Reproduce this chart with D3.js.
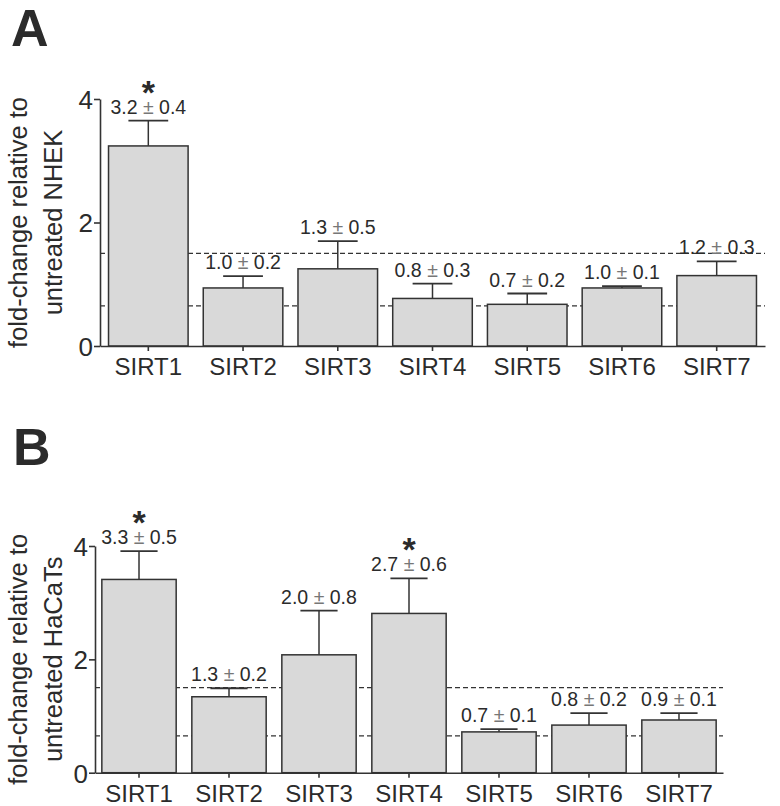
<!DOCTYPE html>
<html>
<head>
<meta charset="utf-8">
<script src="https://cdn.jsdelivr.net/npm/d3@7"></script>
<style>
  html, body { margin: 0; padding: 0; background: #fff; }
  svg { display: block; }
  text { font-family: "Liberation Sans", Arial, Helvetica, sans-serif; fill: #2b2b2b; }
</style>
</head>
<body>
<svg id="chart" width="780" height="806"></svg>
<script>
// ---------- data ----------
const categories = ["SIRT1", "SIRT2", "SIRT3", "SIRT4", "SIRT5", "SIRT6", "SIRT7"];
const yTicks = [0, 2, 4];
const thresholds = [0.65, 1.5];

// Panel A (NHEK)
const meanA = [3.24, 0.94, 1.25, 0.77, 0.675, 0.94, 1.14];
const errA = [0.41, 0.19, 0.45, 0.24, 0.175, 0.03, 0.23];
const labelMeanA = ["3.2", "1.0", "1.3", "0.8", "0.7", "1.0", "1.2"];
const labelSdA = ["0.4", "0.2", "0.5", "0.3", "0.2", "0.1", "0.3"];
const sigA = [true, false, false, false, false, false, false];

// Panel B (HaCaT)
const meanB = [3.41, 1.34, 2.08, 2.81, 0.72, 0.84, 0.93];
const errB = [0.50, 0.15, 0.78, 0.62, 0.05, 0.21, 0.12];
const labelMeanB = ["3.3", "1.3", "2.0", "2.7", "0.7", "0.8", "0.9"];
const labelSdB = ["0.5", "0.2", "0.8", "0.6", "0.1", "0.2", "0.1"];
const sigB = [true, false, false, true, false, false, false];

const svg = d3.select("#chart");
const ink = "#333";

function panel(cfg) {
  const g = svg.append("g");
  const x = d3.scaleBand().domain(categories).range([cfg.x0, cfg.x1])
    .paddingInner(cfg.pi).paddingOuter(cfg.po);
  const y = d3.scaleLinear().domain([0, 4]).range([cfg.yb, cfg.yt]);

  // threshold dashed lines (behind bars)
  g.selectAll("line.thr").data(thresholds).join("line")
    .attr("x1", cfg.x0).attr("x2", cfg.x1)
    .attr("y1", d => y(d)).attr("y2", d => y(d))
    .attr("stroke", ink).attr("stroke-width", 1.3)
    .attr("stroke-dasharray", "5,3");

  const rows = categories.map((c, i) => ({
    c, m: cfg.mean[i], e: cfg.err[i], lm: cfg.lm[i], ls: cfg.ls[i], sig: cfg.sig[i]
  }));

  // error bars
  const eb = g.selectAll("g.eb").data(rows).join("g");
  eb.append("line")
    .attr("x1", d => x(d.c) + x.bandwidth() / 2).attr("x2", d => x(d.c) + x.bandwidth() / 2)
    .attr("y1", d => y(d.m)).attr("y2", d => y(d.m + d.e))
    .attr("stroke", ink).attr("stroke-width", 1.5);
  eb.append("line")
    .attr("x1", d => x(d.c) + x.bandwidth() / 4).attr("x2", d => x(d.c) + x.bandwidth() * 3 / 4)
    .attr("y1", d => y(d.m + d.e)).attr("y2", d => y(d.m + d.e))
    .attr("stroke", ink).attr("stroke-width", 1.8);

  // bars
  g.selectAll("rect.bar").data(rows).join("rect")
    .attr("x", d => x(d.c)).attr("width", x.bandwidth())
    .attr("y", d => y(d.m)).attr("height", d => y(0) - y(d.m))
    .attr("fill", "#d9d9d9").attr("stroke", ink).attr("stroke-width", 1.5);

  // value labels
  const lab = g.selectAll("text.val").data(rows).join("text")
    .attr("x", d => x(d.c) + x.bandwidth() / 2)
    .attr("y", d => y(d.m + d.e) - 7)
    .attr("text-anchor", "middle")
    .attr("font-size", 19.5);
  lab.append("tspan").text(d => d.lm + " ");
  lab.append("tspan").attr("style", "fill:#777").text("±");
  lab.append("tspan").text(d => " " + d.ls);

  // significance stars
  g.selectAll("text.star").data(rows.filter(d => d.sig)).join("text")
    .attr("x", d => x(d.c) + x.bandwidth() / 2)
    .attr("y", d => y(d.m + d.e) - 7 - 10)
    .attr("text-anchor", "middle")
    .attr("font-size", 34).attr("font-weight", "bold")
    .text("*");

  // axes
  const ya = g.append("g").attr("transform", `translate(${cfg.x0},0)`)
    .call(d3.axisLeft(y).tickValues(yTicks).tickFormat(d3.format("d")).tickSize(6).tickSizeOuter(0));
  const xa = g.append("g").attr("transform", `translate(0,${cfg.yb})`)
    .call(d3.axisBottom(x).tickSize(5).tickSizeOuter(0));
  [ya, xa].forEach(a => {
    a.selectAll("path, line").attr("stroke", ink).attr("stroke-width", 1.6);
    a.selectAll("text").attr("fill", "#2b2b2b").style("font-family", "'Liberation Sans', Arial, sans-serif");
  });
  ya.selectAll("text").attr("font-size", 26).attr("x", -7).attr("dy", "0.36em");
  xa.selectAll("text").attr("font-size", 24).attr("dy", 0).attr("y", 29);

  // y title
  const cy = (cfg.yb + cfg.yt) / 2;
  const yt = g.append("g");
  yt.append("text").attr("transform", `translate(27,${cy}) rotate(-90)`)
    .attr("text-anchor", "middle").attr("font-size", 25.5).text("fold-change relative to");
  yt.append("text").attr("transform", `translate(62,${cy}) rotate(-90)`)
    .attr("text-anchor", "middle").attr("font-size", 25.5).text(cfg.title2);

  // panel letter
  svg.append("text").attr("x", cfg.lx).attr("y", cfg.ly)
    .attr("font-size", 52).attr("font-weight", "bold").attr("fill", "#1e1e1e")
    .text(cfg.letter);
}

panel({
  x0: 100, x1: 765, yb: 346, yt: 99, pi: 0.16, po: 0.09,
  mean: meanA, err: errA, lm: labelMeanA, ls: labelSdA, sig: sigA,
  title2: "untreated NHEK", letter: "A", lx: 11, ly: 46
});
panel({
  x0: 95, x1: 723, yb: 772.7, yt: 546, pi: 0.174, po: 0.076,
  mean: meanB, err: errB, lm: labelMeanB, ls: labelSdB, sig: sigB,
  title2: "untreated HaCaTs", letter: "B", lx: 13, ly: 465
});
</script>
</body>
</html>
